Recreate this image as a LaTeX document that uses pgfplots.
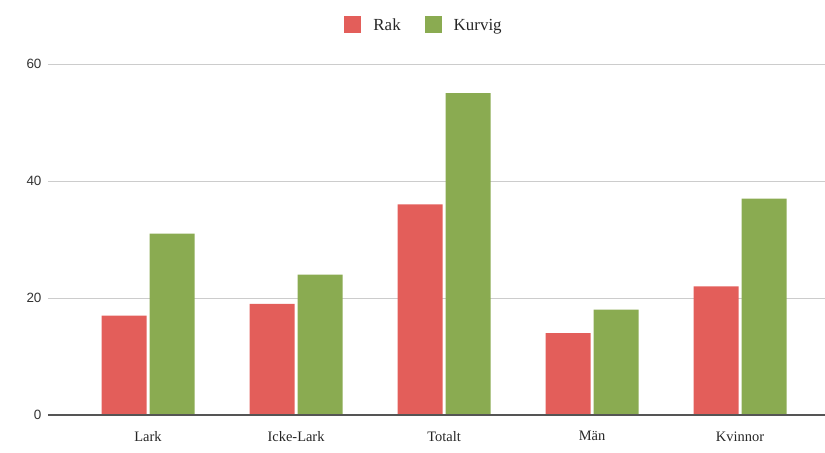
\documentclass[border=0pt]{standalone}
\usepackage{pgfplots}
\pgfplotsset{compat=1.18}
\usepackage{fontspec}
\setmainfont{Liberation Serif}
\newfontfamily\ticksans{Liberation Sans}
\definecolor{rak}{HTML}{E35E5A}
\definecolor{kurvig}{HTML}{8AAB51}
\definecolor{gridc}{HTML}{CCCCCC}
\definecolor{axc}{HTML}{555555}
\begin{document}
\begin{tikzpicture}
\begin{axis}[
  at={(0,0)}, anchor=south west,
  scale only axis,
  width=777bp, height=351bp,
  xmin=-0.676, xmax=4.574,
  ymin=0, ymax=60,
  ytick={0,20,40,60},
  xtick={0,1,2,3,4},
  xticklabels={Lark,Icke-Lark,Totalt,Män,Kvinnor},
  ybar, bar width=45bp,
  ymajorgrids, grid style={gridc, line width=0.8bp},
  axis line style={draw=none},
  major tick length=0pt,
  tick style={draw=none},
  yticklabel style={font=\ticksans\fontsize{13.5}{15}\selectfont, text=black!80, xshift=-3bp},
  xticklabel style={font=\fontsize{14.5}{16}\selectfont, text=black!85, yshift=-13bp},
  /pgf/number format/assume math mode=true,
  clip=false,
  legend style={at={(0.484,1.0)}, yshift=39bp, anchor=center, draw=none, fill=none,
    legend columns=2, font=\fontsize{17}{19}\selectfont, text=black!85,
    /tikz/every odd column/.append style={column sep=10bp},
    /tikz/every even column/.append style={column sep=22bp}},
  legend image code/.code={\fill[#1, draw=none] (0bp,-8bp) rectangle (17bp,9bp);},
]
\addplot[fill=rak, draw=none, bar shift=-24bp] coordinates {(0,17) (1,19) (2,36) (3,14) (4,22)};
\addlegendentry{Rak}
\addplot[fill=kurvig, draw=none, bar shift=24bp] coordinates {(0,31) (1,24) (2,55) (3,18) (4,37)};
\addlegendentry{Kurvig}
\draw[axc, line width=1.2bp] (axis cs:-0.676,0) -- (axis cs:4.574,0);
\end{axis}
\pgfresetboundingbox
\path[use as bounding box] (-48bp,-38bp) rectangle (777bp,415bp);
\end{tikzpicture}
\end{document}
